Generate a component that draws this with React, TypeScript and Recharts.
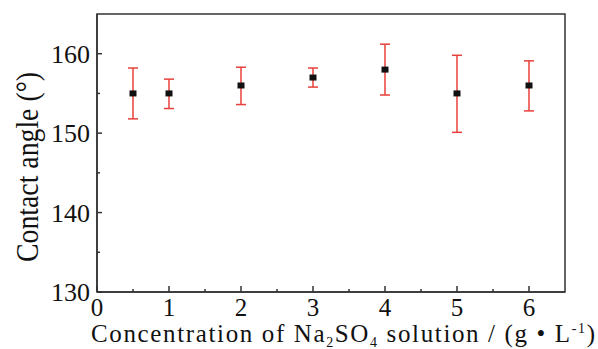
import React from 'react';
import { ScatterChart, Scatter, XAxis, YAxis, ErrorBar, ReferenceArea } from 'recharts';

const concentrations = [0.5, 1, 2, 3, 4, 5, 6];
const contactAngles = [155, 155, 156, 157, 158, 155, 156];
const errorLow = [3.2, 1.9, 2.4, 1.2, 3.2, 4.9, 3.2];
const errorHigh = [3.2, 1.8, 2.3, 1.2, 3.2, 4.8, 3.1];
const xTicks = [0, 0.5, 1, 1.5, 2, 2.5, 3, 3.5, 4, 4.5, 5, 5.5, 6];
const yTicks = [130, 135, 140, 145, 150, 155, 160];

const data = concentrations.map((c, i) => ({
  x: c,
  y: contactAngles[i],
  err: [errorLow[i], errorHigh[i]],
}));

const FONT = '"Liberation Serif"';
const AXIS = '#333';
const X_MARGIN = 6;
const Y_MARGIN = 7;

const XTick = (props: any) => {
  const { x, y, payload } = props;
  const major = Number.isInteger(payload.value);
  const axisY = y - X_MARGIN;
  return (
    <g>
      <line x1={x} x2={x} y1={axisY} y2={axisY - (major ? 6 : 3)} stroke={AXIS} strokeWidth={1.5} />
      {major && (
        <text x={x} y={y} dy="0.72em" textAnchor="middle" style={{ fontFamily: FONT, fontSize: 25 }} fill="#111">
          {payload.value}
        </text>
      )}
    </g>
  );
};

const YTick = (props: any) => {
  const { x, y, payload } = props;
  const major = payload.value % 10 === 0;
  const axisX = x + Y_MARGIN;
  return (
    <g>
      <line x1={axisX} x2={axisX + (major ? 5 : 3)} y1={y} y2={y} stroke={AXIS} strokeWidth={1.5} />
      {major && (
        <text x={x} y={y} dy="0.35em" textAnchor="end" style={{ fontFamily: FONT, fontSize: 26 }} fill="#111">
          {payload.value}
        </text>
      )}
    </g>
  );
};

const XTitle = () => (
  <text x={343} y={342} textAnchor="middle" style={{ fontFamily: FONT, fontSize: 25 }} fill="#111" textLength={504} lengthAdjust="spacing">
    Concentration of Na
    <tspan style={{ fontSize: 14 }} dy={5}>2</tspan>
    <tspan dy={-5}>SO</tspan>
    <tspan style={{ fontSize: 14 }} dy={5}>4</tspan>
    <tspan dy={-5}> solution / (g • L</tspan>
    <tspan style={{ fontSize: 14 }} dy={-9}>-1</tspan>
    <tspan dy={9}>)</tspan>
  </text>
);

const YTitle = () => (
  <text
    x={0}
    y={0}
    transform="translate(38,167) rotate(-90)"
    textAnchor="middle"
    style={{ fontFamily: FONT, fontSize: 31 }}
    fill="#111"
    textLength={190}
    lengthAdjust="spacingAndGlyphs"
  >
    Contact angle (°)
  </text>
);

const Square = (props: any) => {
  const { cx, cy } = props;
  return <rect x={cx - 3.5} y={cy - 3} width={7} height={6} fill="#111" />;
};

export default function App() {
  return (
    <div style={{ position: 'absolute', left: 0, top: 0, background: '#fff', fontFamily: FONT }}>
      <ScatterChart width={598} height={349} margin={{ top: 14, right: 33, left: 0, bottom: 0 }} style={{ fontFamily: FONT }}>
        <XAxis
          type="number"
          dataKey="x"
          domain={[0, 6.5]}
          ticks={xTicks}
          interval={0}
          height={57}
          tickSize={0}
          tickMargin={X_MARGIN}
          tickLine={false}
          axisLine={{ stroke: AXIS, strokeWidth: 1.5 }}
          tick={<XTick />}
          label={{ content: () => <XTitle /> }}
        />
        <YAxis
          type="number"
          dataKey="y"
          domain={[130, 165]}
          ticks={yTicks}
          interval={0}
          width={97}
          tickSize={0}
          tickMargin={Y_MARGIN}
          tickLine={false}
          axisLine={{ stroke: AXIS, strokeWidth: 1.5 }}
          tick={<YTick />}
          label={{ content: () => <YTitle /> }}
        />
        <ReferenceArea x1={0} x2={6.5} y1={130} y2={165} fill="none" stroke={AXIS} strokeWidth={1.5} />
        <Scatter data={data} shape={<Square />} isAnimationActive={false}>
          <ErrorBar dataKey="err" direction="y" width={5} stroke="#e8403a" strokeWidth={1.5} isAnimationActive={false} />
        </Scatter>
      </ScatterChart>
    </div>
  );
}
